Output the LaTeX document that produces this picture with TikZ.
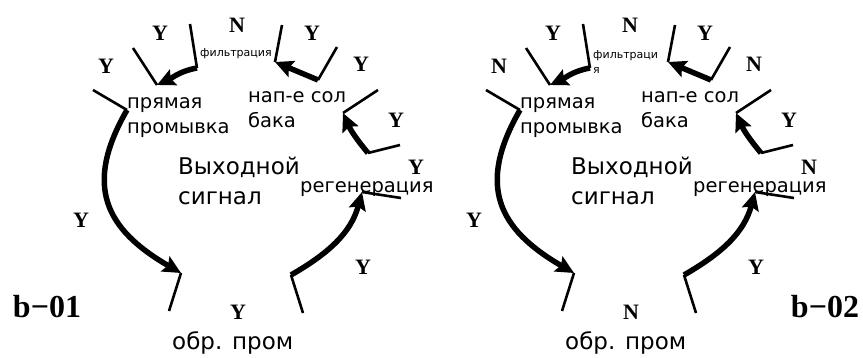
\documentclass[tikz,border=0pt]{standalone}
\usepackage{fontspec}
\setmainfont{DejaVu Sans}
\newfontfamily\ynfont{Liberation Serif}
\usetikzlibrary{arrows.meta}
\begin{document}
\begin{tikzpicture}[x=1pt, y=-1pt,
  tick/.style={line width=2.6pt},
  flow/.style={line width=5.5pt, -{Stealth[length=18pt,width=17pt,inset=3pt]}},
  yn/.style={font=\ynfont\bfseries\fontsize{22}{22}\selectfont, inner sep=0pt},
  stage/.style={anchor=base west, inner sep=0pt, align=left, font=\fontsize{19.5}{25}\selectfont},
  big stage/.style={stage, font=\fontsize{23}{30}\selectfont},
  small stage/.style={stage, font=\fontsize{11}{15}\selectfont},
  panel/.style={anchor=base, inner sep=0pt, font=\ynfont\bfseries\fontsize{32}{32}\selectfont}]
\useasboundingbox (0,0) rectangle (863,358);
\foreach \dx/\panelname/\labx/\ans/\filtxt/\fily in {0/b−01/47/Y/{фильтрация}/57, 393/b−02/432/N/{фильтраци\\я}/74}{
\begin{scope}[xshift=\dx pt]
% ticks
\coordinate (t1a) at (190,24);  \coordinate (t1b) at (197,68);
\coordinate (t2a) at (133,48);  \coordinate (t2b) at (157,85);
\coordinate (t3a) at (93,90);   \coordinate (t3b) at (127,110);
\coordinate (t4a) at (181,273); \coordinate (t4b) at (169,311);
\coordinate (t5a) at (291,275); \coordinate (t5b) at (303,313);
\coordinate (t6a) at (362,192); \coordinate (t6b) at (401,198);
\coordinate (t7a) at (368,153); \coordinate (t7b) at (400,145);
\coordinate (t8a) at (378,90);  \coordinate (t8b) at (343,113);
\coordinate (t9a) at (337,47);  \coordinate (t9b) at (318,80);
\coordinate (t10a) at (282,25); \coordinate (t10b) at (275,62);
\foreach \i in {1,...,10}
  \draw [tick] (t\i a) -- (t\i b);
% arrows
\draw [flow] (t1b) to[out=190, in=25] (t2b);
\draw [flow] (t3b) to[out=240, in=150, looseness=1.3] (t4a);
\draw [flow] (t5a) to[out=30, in=-105] (t6a);
\draw [flow] (t7a) to[bend left=8] (t8b);
\draw [flow] (t9b) -- (t10b);
% stages
\node [small stage](fil) at (200,\fily) {\filtxt};
\node [stage](pp) at (127,134) {прямая\\промывка};
\node [stage](ns) at (248,128) {нап-е сол\\бака};
\node [big stage](out) at (178,205) {Выходной\\сигнал};
\node [stage](reg) at (300,193) {регенерация};
\node [big stage](op) at (172,350) {обр. пром};
% answers
\node [yn](n1) at (237,25) {N};
\node [yn](n2) at (160,33) {Y};
\node [yn](n3) at (106,66) {\ans};
\node [yn](n4) at (81,220) {Y};
\node [yn](n5) at (238,312) {\ans};
\node [yn](n6) at (363,267) {Y};
\node [yn](n7) at (416,167) {\ans};
\node [yn](n8) at (396,120) {Y};
\node [yn](n9) at (361,64) {\ans};
\node [yn](n10) at (312,33) {Y};
\node [panel](name) at (\labx,318) {\panelname};
\end{scope}
}
\end{tikzpicture}
\end{document}
